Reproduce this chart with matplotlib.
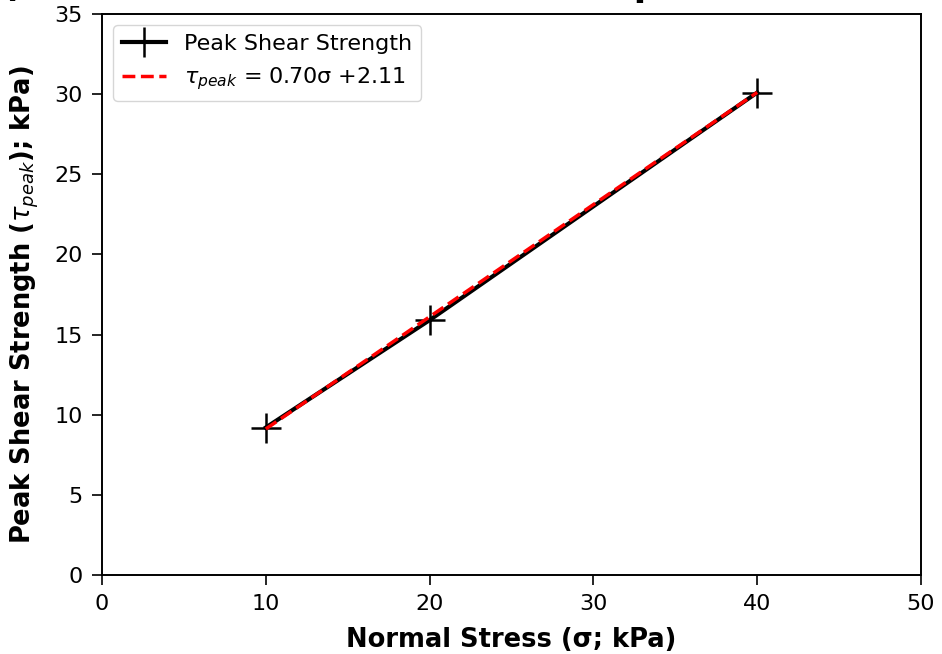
import numpy as np
import matplotlib
matplotlib.use('Agg')
import matplotlib.pyplot as plt

# data
normal_stress = [10, 20, 40]
peak_shear = [9.2, 15.9, 30.1]
slope = 0.70
intercept = 2.11

tick_font_size = 16
label_font_size = 18.5
legend_font_size = 16

fig = plt.figure(figsize=(9.42, 6.54), dpi=100)
ax = fig.add_axes([102/942, 1 - 575/654, (921-102)/942, (575-14)/654])

ax.plot(normal_stress, peak_shear, color='k', linewidth=3.0, marker='+',
        markersize=22, markeredgewidth=1.8, label='Peak Shear Strength')
fit_x = np.array([normal_stress[0], normal_stress[-1]])
ax.plot(fit_x, slope * fit_x + intercept, color='red', linestyle='--', linewidth=2.5,
        label=r'$\tau_{peak}$ = %.2fσ +%.2f' % (slope, intercept))

ax.set_xlim(0, 50)
ax.set_ylim(0, 35)
ax.tick_params(labelsize=tick_font_size, length=7, width=1.2, pad=7)
for sp in ax.spines.values():
  sp.set_linewidth(1.4)
ax.set_xlabel('Normal Stress (σ; kPa)', fontsize=label_font_size, fontweight='bold', labelpad=9)
ax.set_ylabel(r'Peak Shear Strength ($\tau_{peak}$); kPa)', fontsize=label_font_size, fontweight='bold')
ax.yaxis.set_label_coords(-0.075, 0.481)
ax.legend(loc='upper left', fontsize=legend_font_size)

# title is cut off at the top of the picture
fig.text(-0.02, 1.006, 'b) Mohr-Coulomb Failure Envelope', fontsize=26, fontweight='bold',
         ha='left', va='baseline')

fig.savefig('out.png', dpi=100)
